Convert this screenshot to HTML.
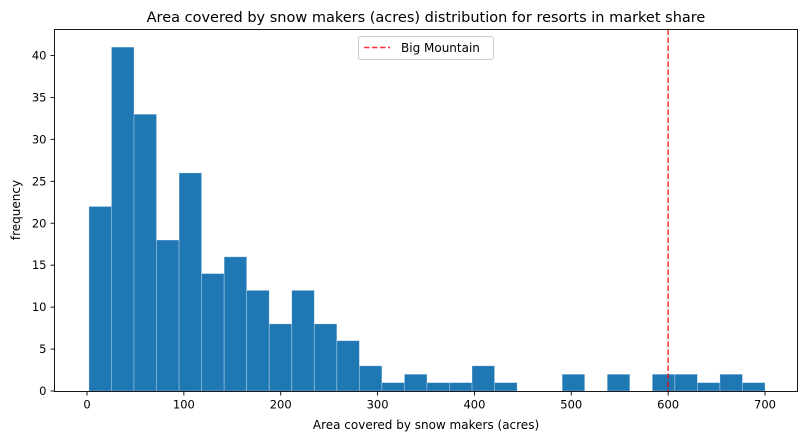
<!DOCTYPE html>
<html><head><meta charset="utf-8"><style>
body{margin:0;background:#fff;}
svg{display:block;font-family:"DejaVu Sans","Liberation Sans",sans-serif;}
</style></head><body>
<svg id="chart" width="808" height="442" viewBox="0 0 808 442">
<text x="426" y="22" text-anchor="middle" font-size="14.5" fill="#000">Area covered by snow makers (acres) distribution for resorts in market share</text>
<g id="bars"></g>
<g id="axes"></g>
<text x="426" y="429" text-anchor="middle" font-size="12">Area covered by snow makers (acres)</text>
<text transform="translate(20,210) rotate(-90)" text-anchor="middle" font-size="12">frequency</text>
<g>
<rect x="358.5" y="36.5" width="135" height="23" rx="2" fill="#fff" stroke="#ccc"/>
<line x1="364" y1="47.5" x2="390" y2="47.5" stroke="#ff0000" stroke-opacity="0.8" stroke-width="1.5" stroke-dasharray="5.5,2.5"/>
<text x="401" y="52" font-size="12">Big Mountain</text>
</g>
</svg>
<script>
const binStart = 2;
const binEnd = 700;
const counts = [22,41,33,18,26,14,16,12,8,12,8,6,3,1,2,1,1,3,1,0,0,2,0,2,0,2,2,1,2,1];
const xTicks = [0,100,200,300,400,500,600,700];
const yTicks = [0,5,10,15,20,25,30,35,40];
const markerValue = [600];

const L=54.5,R=797.5,T=29.5,B=391.5;
const xs=v=>87+v*(765-87)/700;
const ys=v=>391-v*(391-55.5)/40;
const NS="http://www.w3.org/2000/svg";
function mk(tag,attrs,parent){const e=document.createElementNS(NS,tag);for(const k in attrs)e.setAttribute(k,attrs[k]);parent.appendChild(e);return e;}
const bars=document.getElementById('bars'), axes=document.getElementById('axes');
const w=(binEnd-binStart)/counts.length;
counts.forEach((c,i)=>{
  if(c<=0)return;
  const x0=xs(binStart+i*w), x1=xs(binStart+(i+1)*w);
  const r=mk('rect',{x:x0,y:ys(c),width:x1-x0,height:ys(0)-ys(c),fill:'#1f77b4',stroke:'#ffffff','stroke-opacity':'0.35','stroke-width':'0.8'},bars);
  
  
});
const ml=mk('line',{x1:xs(markerValue[0]),x2:xs(markerValue[0]),y1:T,y2:B,stroke:'#ff0000','stroke-opacity':'0.8','stroke-width':'1.5','stroke-dasharray':'5.5,2.5'},bars);


const fr=mk('rect',{x:L,y:T,width:R-L,height:B-T,fill:'none',stroke:'#000','stroke-width':'0.9'},axes);


xTicks.forEach(v=>{
  const x=xs(v);
  const t=mk('line',{x1:x,x2:x,y1:B,y2:B+4,stroke:'#000','stroke-width':'0.9'},axes);
  
  
  const l=mk('text',{x:x,y:B+17,'text-anchor':'middle','font-size':'11.5'},axes);
  l.textContent=v;
  
  
});
yTicks.forEach(v=>{
  const y=ys(v);
  const t=mk('line',{x1:L-4,x2:L,y1:y,y2:y,stroke:'#000','stroke-width':'0.9'},axes);
  
  
  const l=mk('text',{x:L-8,y:y+4,'text-anchor':'end','font-size':'11.5'},axes);
  l.textContent=v;
  
  
});
</script>
</body></html>
